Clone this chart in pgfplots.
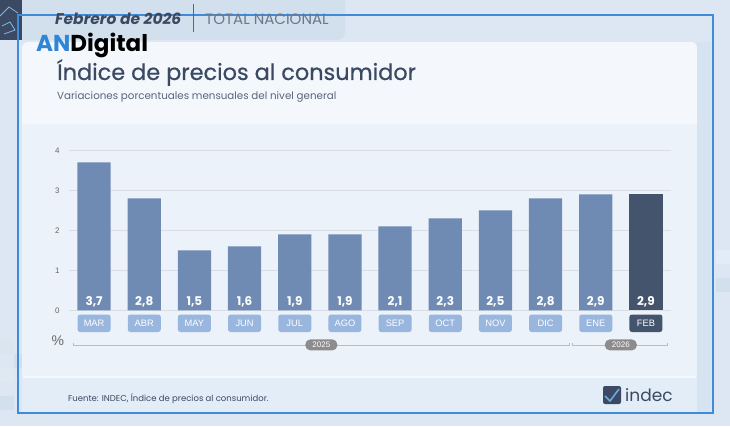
\documentclass[border=0pt]{standalone}
\usepackage{fontspec}
\setmainfont{Poppins}
\newfontfamily\arialf{Liberation Sans}
\newfontfamily\poptitle[FakeBold=0.6]{Poppins}
\usepackage{pgfplots}
\pgfplotsset{compat=1.18}
\usepackage{pgfplotstable}

\definecolor{bgc}{HTML}{DCE7F3}
\definecolor{headc}{HTML}{D2DFEC}
\definecolor{darkc}{HTML}{3B4A62}
\definecolor{cardc}{HTML}{F4F7FC}
\definecolor{panelc}{HTML}{ECF2FA}
\definecolor{footc}{HTML}{E3EDF7}
\definecolor{rightc}{HTML}{D6E4F2}
\definecolor{borderc}{HTML}{3F8BD9}
\definecolor{barc}{HTML}{6F8BB3}
\definecolor{lastc}{HTML}{45546D}
\definecolor{catc}{HTML}{99B6DF}
\definecolor{gridc}{HTML}{D9DEE6}
\definecolor{tickc}{HTML}{666666}
\definecolor{pillc}{HTML}{8C8C8C}
\definecolor{anblue}{HTML}{2F86D6}

\pgfplotstableread{
x v
0 3.7
1 2.8
2 1.5
3 1.6
4 1.9
5 1.9
6 2.1
7 2.3
8 2.5
9 2.8
10 2.9
}\mainbars
\pgfplotstableread{
x v
11 2.9
}\lastbar

\begin{document}
\begin{tikzpicture}
\begin{scope}[x=1pt, y=-1pt, yshift=426pt]
\useasboundingbox (0,0) rectangle (730,426);
\fill[bgc] (0,0) rectangle (730,426);
% pixel blocks
\fill[headc!80!white] (0,340) rectangle (14,354);
\fill[headc] (14,354) rectangle (28,368);
\fill[headc!70!white] (0,368) rectangle (14,382);
\fill[rightc!80!white] (28,382) rectangle (42,396);
\fill[headc] (0,396) rectangle (14,410);
\fill[headc!75!white] (14,410) rectangle (42,426);
\fill[rightc!70!white] (716,250) rectangle (730,264);
\fill[headc] (716,278) rectangle (730,292);
% header
\fill[headc, rounded corners=8pt] (-10,-10) rectangle (345,40);
\fill[darkc] (0,0) rectangle (22,40);
\draw[anblue!60!white, line width=0.8pt] (0,16) -- (9,7) -- (18,13) (2,26) -- (10,22) -- (15,30) -- (4,34);
% card
\fill[cardc, rounded corners=6pt] (22,42) rectangle (697,380);
\fill[panelc] (22,124) rectangle (697,376);
\fill[footc] (22,378) rectangle (711,412);
\fill[rightc] (697,42) rectangle (711,412);
\draw[borderc, line width=1.6pt] (18,15) rectangle (713,413);
% header texts
\node[anchor=base west, inner sep=0pt, text=darkc, font=\bfseries\itshape\fontsize{15.5}{15.5}\selectfont] at (55,25) {Febrero de 2026};
\draw[tickc, line width=0.8pt] (193,4) -- (193,32);
\node[anchor=base west, inner sep=0pt, text=darkc!75, font=\fontsize{15}{15}\selectfont] at (205,25) {TOTAL NACIONAL};
\node[anchor=base west, inner sep=0pt, font=\bfseries\fontsize{23}{23}\selectfont] at (36,52) {\textcolor{anblue}{AN}Digital};
\node[anchor=base west, inner sep=0pt, text=darkc, font=\poptitle\fontsize{22.4}{22.4}\selectfont] at (57,80) {Índice de precios al consumidor};
\node[anchor=base west, inner sep=0pt, text=darkc!85, font=\fontsize{10.3}{11}\selectfont] at (57,100) {Variaciones porcentuales mensuales del nivel general};
% footer
\node[anchor=base west, inner sep=0pt, text=darkc, font=\fontsize{8.5}{9}\selectfont] at (68,401) {Fuente: INDEC, Índice de precios al consumidor.};
\fill[darkc, rounded corners=2pt] (603,386) rectangle (621,404);
\draw[anblue!70!white, line width=1.6pt] (605,396) -- (610,401) -- (619,389);
\node[anchor=base west, inner sep=0pt, text=darkc, font=\fontsize{17}{17}\selectfont] at (625,401) {indec};
\end{scope}

\begin{axis}[
  at={(69pt,115.7pt)}, anchor=south west,
  scale only axis, width=602pt, height=160pt,
  xmin=-0.5, xmax=11.5, ymin=0, ymax=4,
  clip=false,
  axis line style={draw=none},
  major tick length=0pt,
  ymajorgrids=true,
  grid style={gridc, line width=0.8pt},
  ytick={0,1,2,3,4},
  yticklabels={0,1,2,3,4},
  yticklabel style={font=\arialf\fontsize{8}{8}\selectfont, text=tickc, xshift=-6pt},
  xtick={0,...,10},
  xticklabels={MAR,ABR,MAY,JUN,JUL,AGO,SEP,OCT,NOV,DIC,ENE},
  extra x ticks={11},
  extra x tick labels={FEB},
  extra x tick style={xticklabel style={fill=lastc}},
  xticklabel style={fill=catc, text=white, rounded corners=2.5pt,
    minimum width=33pt, minimum height=17.5pt, inner sep=0pt,
    anchor=north, yshift=-4pt, font=\arialf\fontsize{9.3}{9.3}\selectfont},
  every axis plot/.append style={
    ybar, bar width=0.664, bar shift=0pt, draw=none,
    nodes near coords,
    visualization depends on={y \as \rawy},
    every node near coord/.append style={
      shift={(axis direction cs:0,-\rawy)}, anchor=base, yshift=5.3pt,
      text=white, font=\bfseries\fontsize{12}{12}\selectfont},
    /pgf/number format/assume math mode=true,
    /pgf/number format/use comma,
    /pgf/number format/fixed,
    /pgf/number format/fixed zerofill,
    /pgf/number format/precision=1,
  },
]
\addplot[fill=barc] table[x=x, y=v] {\mainbars};
\addplot[fill=lastc] table[x=x, y=v] {\lastbar};

\draw[gridc!85!black, line width=0.7pt]
  (axis cs:-0.42,-0.82) -- (axis cs:-0.42,-0.865) -- (axis cs:9.47,-0.865) -- (axis cs:9.47,-0.82);
\draw[gridc!85!black, line width=0.7pt]
  (axis cs:9.53,-0.82) -- (axis cs:9.53,-0.865) -- (axis cs:11.42,-0.865) -- (axis cs:11.42,-0.82);
\node[fill=pillc, rounded corners=5pt, text=white, inner sep=0pt,
  minimum width=32pt, minimum height=11pt, font=\arialf\fontsize{8}{8}\selectfont]
  at (axis cs:4.53,-0.865) {2025};
\node[fill=pillc, rounded corners=5pt, text=white, inner sep=0pt,
  minimum width=32pt, minimum height=11pt, font=\arialf\fontsize{8}{8}\selectfont]
  at (axis cs:10.5,-0.865) {2026};
\node[text=tickc, font=\arialf\fontsize{14}{14}\selectfont] at (axis cs:-0.72,-0.76) {\%};
\end{axis}
\end{tikzpicture}
\end{document}
